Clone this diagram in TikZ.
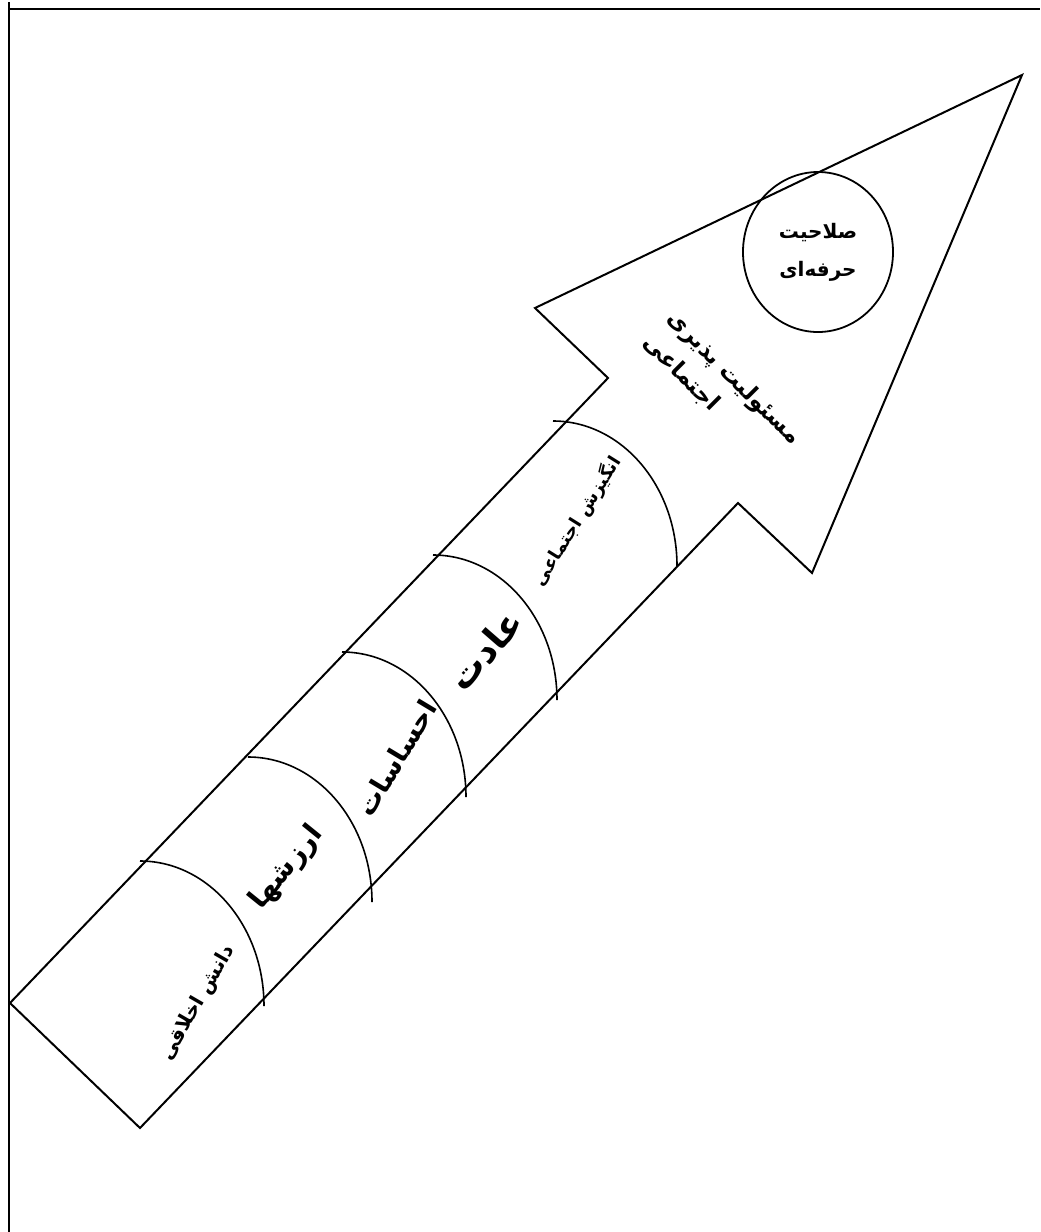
\documentclass[tikz,border=0pt]{standalone}
\usepackage{fontspec}
\usepackage{tikz}
\usetikzlibrary{shapes.geometric}
\newfontfamily\arabicfont[Script=Arabic]{DejaVu Sans}
\TeXXeTstate=1
\newcommand\fasize[2]{\arabicfont\bfseries\fontsize{#1}{#2}\selectfont}

\begin{document}
\begin{tikzpicture}[x=0.5pt,y=-0.5pt,
  edge/.style={line width=1pt,line join=miter},
  lbl/.style={inner sep=0pt,align=center}]
\useasboundingbox (0,0) rectangle (1040,1232);
% page frame
\draw[edge] (9,9)--(1040,9);
\draw[edge] (9,2)--(9,1232);
% the big arrow
\draw[edge] (10,1003)--(608,378)--(535,308)--(1022,75)--(812,573)--(738,503)--(140,1128)--cycle;
% steps along the shaft
\foreach \sx/\sy in {143/861,251/757,345/652,436/555,556/421}{
  \draw[line width=0.8pt] (\sx-3,\sy) arc[start angle=-90,end angle=0,x radius=124,y radius=145];
}
\node[lbl,rotate=60,font=\fasize{10}{14}] (knowledge) at (198,1003) {\beginR دانش اخلاقی\endR};
\node[lbl,rotate=51,font=\fasize{14}{18}] (values) at (287,868) {\beginR ارزشها\endR};
\node[lbl,rotate=59,font=\fasize{13.5}{18}] (feelings) at (396,758) {\beginR احساسات\endR};
\node[lbl,rotate=49,font=\fasize{18}{22}] (habit) at (485,650) {\beginR عادت\endR};
\node[lbl,rotate=58,font=\fasize{9}{14}] (motive) at (577,521) {\beginR انگیزش اجتماعی\endR};
\node[lbl,rotate=-45,align=left,font=\fasize{11.5}{17}] (responsibility) at (722,390)
  {\beginR مسئولیت پذیری\endR\\\beginR اجتماعی\endR};
% goal
\node[draw,ellipse,line width=0.9pt,minimum width=75pt,minimum height=80pt,inner sep=0pt] (goal) at (818,252) {};
\node[lbl,font=\fasize{10}{19}] (goaltext) at (goal) {\beginR صلاحیت\endR\\\beginR حرفه‌ای\endR};
\end{tikzpicture}
\end{document}
